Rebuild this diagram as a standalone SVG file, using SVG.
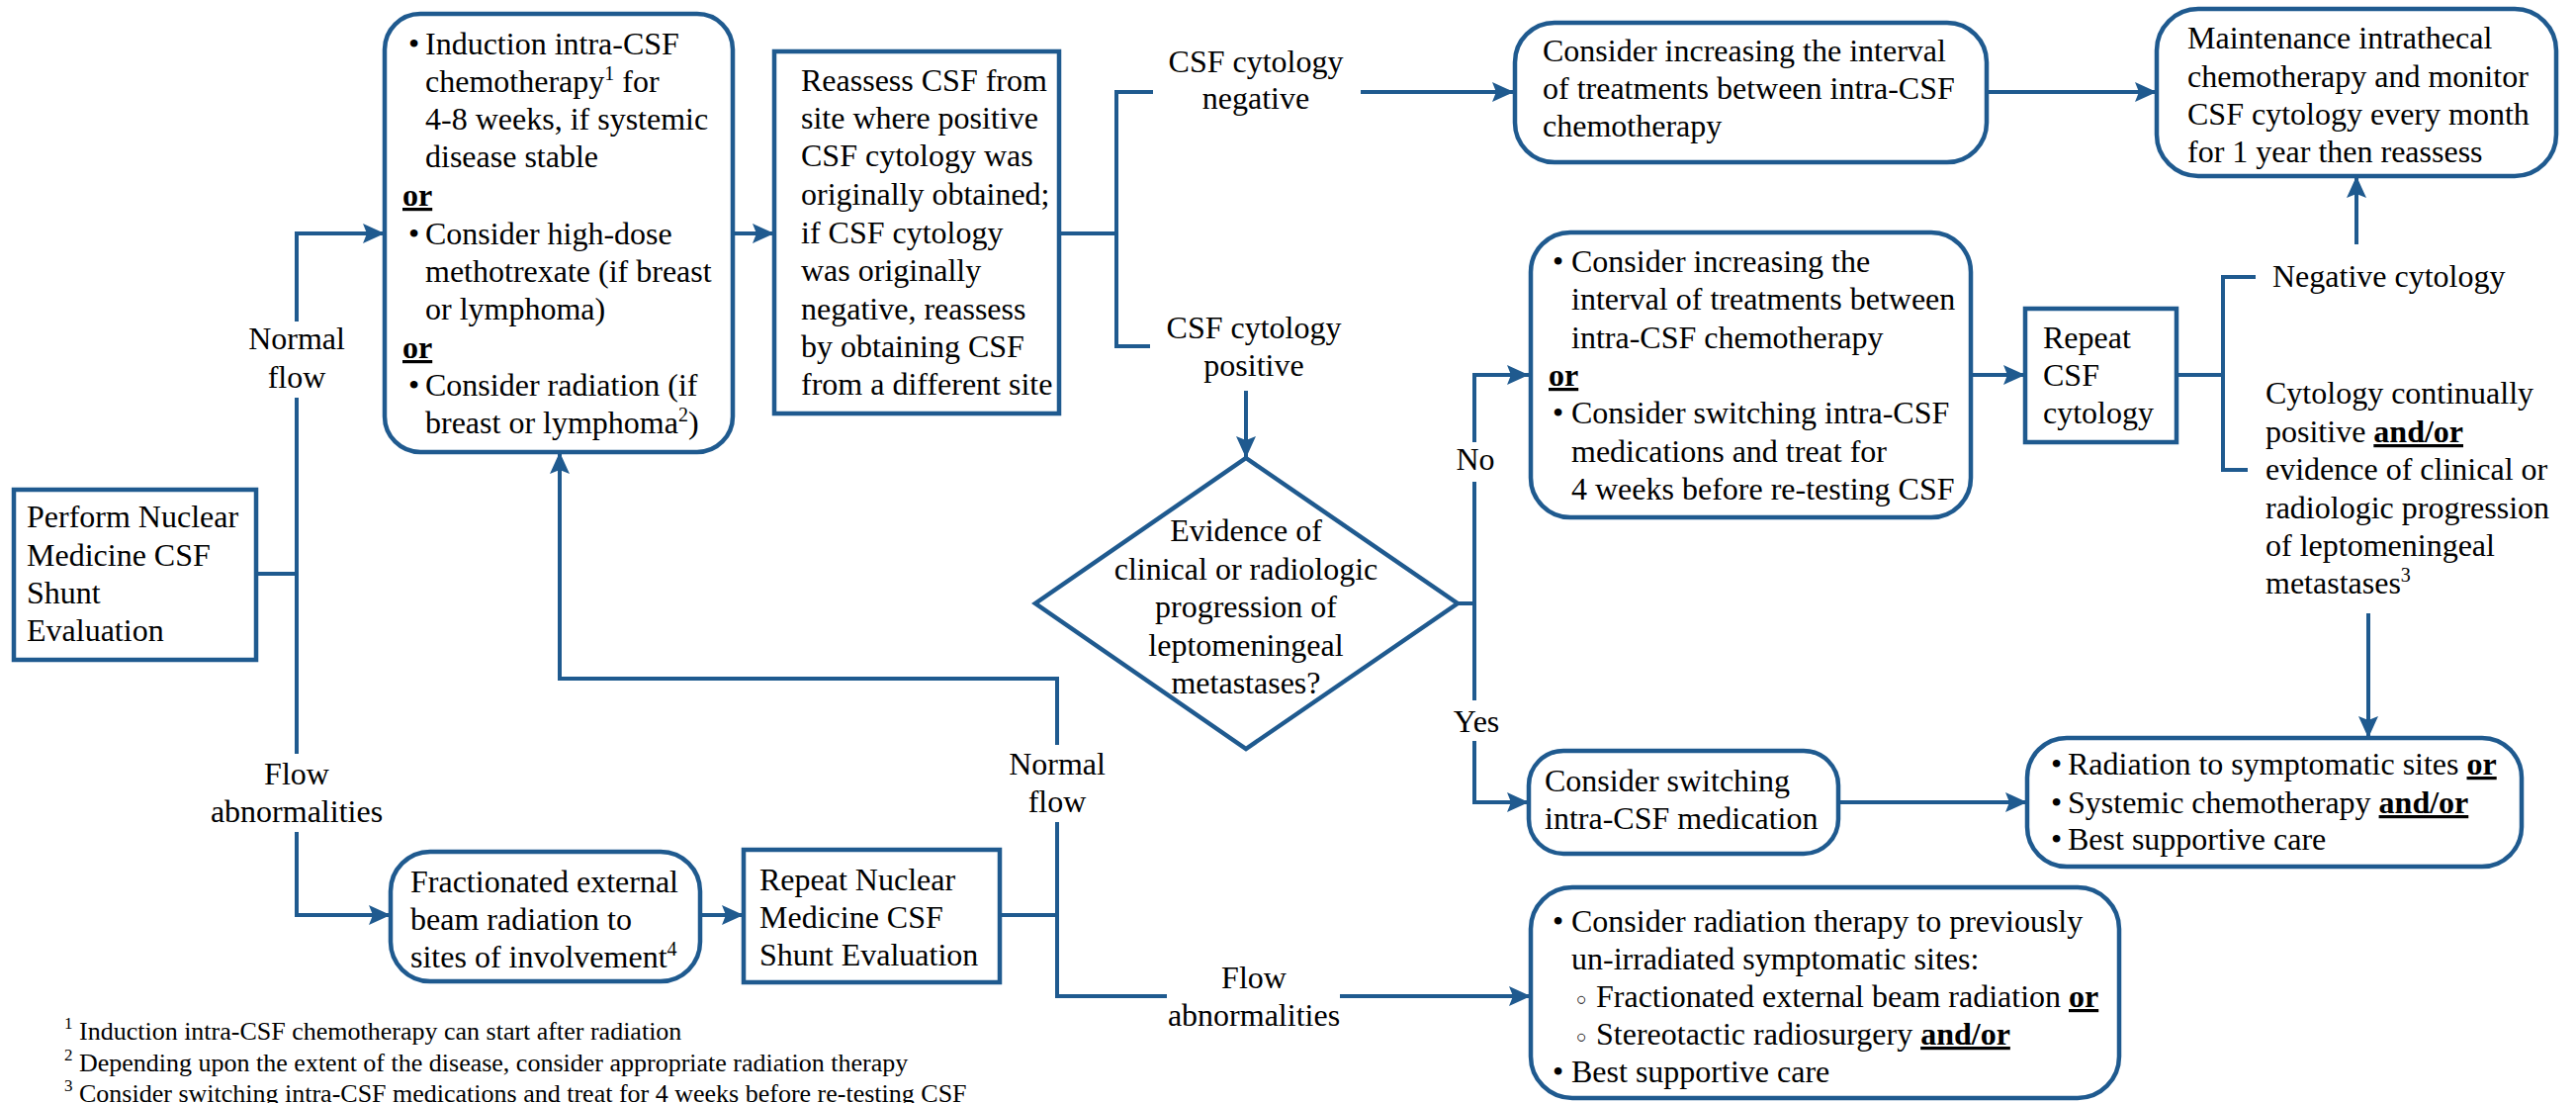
<svg xmlns="http://www.w3.org/2000/svg" width="2605" height="1115" viewBox="0 0 2605 1115">
<style>
text{font-family:"Liberation Serif","Times New Roman",serif;font-size:32px;fill:#000}
.m{text-anchor:middle}
.fn{font-size:26px}
.sup{font-size:20px}
.fs{font-size:17px}
.b{font-weight:bold;text-decoration:underline}
.n{fill:#fff;stroke:#1F5A8F;stroke-width:4.5}
.c{fill:none;stroke:#1F5A8F;stroke-width:4}
.a{marker-end:url(#ah)}
.ob{font-size:18px}
</style>
<defs>
<marker id="ah" markerUnits="userSpaceOnUse" markerWidth="24" markerHeight="22" refX="22" refY="10" orient="auto">
<path d="M0,0 L22,10 L0,20 L4,10 z" fill="#1F5A8F"/>
</marker>
</defs>
<rect width="2605" height="1115" fill="#fff"/>
<g id="connectors">
<path class="c" d="M259,580 H300"/>
<path class="c a" d="M300,325 V236 H389"/>
<path class="c" d="M300,402 V762"/>
<path class="c a" d="M300,841 V925 H395"/>
<path class="c a" d="M741,236 H783"/>
<path class="c" d="M1071,236 H1129"/>
<path class="c" d="M1166,93 H1129 V350 H1163"/>
<path class="c a" d="M1376,93 H1531"/>
<path class="c a" d="M1260,395 V463"/>
<path class="c" d="M1474,610 H1491"/>
<path class="c a" d="M1491,447 V379 H1546"/>
<path class="c" d="M1491,487 V708"/>
<path class="c a" d="M1491,749 V811 H1546"/>
<path class="c a" d="M2009,93 H2181"/>
<path class="c a" d="M1993,379 H2048"/>
<path class="c" d="M2201,379 H2248"/>
<path class="c" d="M2281,280 H2248 V475 H2273"/>
<path class="c a" d="M2383,247 V178"/>
<path class="c a" d="M2395,620 V746"/>
<path class="c a" d="M1859,811 H2050"/>
<path class="c a" d="M708,925 H752"/>
<path class="c" d="M1011,925 H1069"/>
<path class="c a" d="M1069,753 V686 H566 V457"/>
<path class="c" d="M1069,831 V1007 H1180"/>
<path class="c a" d="M1355,1007 H1548"/>
<text class="m" x="300" y="353">Normal</text>
<text class="m" x="300" y="392">flow</text>
<text class="m" x="300" y="793">Flow</text>
<text class="m" x="300" y="831">abnormalities</text>
<text class="m" x="1270" y="73">CSF cytology</text>
<text class="m" x="1270" y="110">negative</text>
<text class="m" x="1268" y="342">CSF cytology</text>
<text class="m" x="1268" y="380">positive</text>
<text class="m" x="1492" y="475">No</text>
<text class="m" x="1493" y="740">Yes</text>
<text class="m" x="1069" y="783">Normal</text>
<text class="m" x="1069" y="821">flow</text>
<text class="m" x="1268" y="999">Flow</text>
<text class="m" x="1268" y="1037">abnormalities</text>
<text x="2298" y="290">Negative cytology</text>
<text x="2291" y="408">Cytology continually</text>
<text x="2291" y="447">positive <tspan class="b">and/or</tspan></text>
<text x="2291" y="485">evidence of clinical or</text>
<text x="2291" y="524">radiologic progression</text>
<text x="2291" y="562">of leptomeningeal</text>
<text x="2291" y="600">metastases<tspan class="sup" dy="-12">3</tspan></text>
</g>
<g id="perform">
<rect class="n" x="14" y="495" width="245" height="172"/>
<text x="27" y="533">Perform Nuclear</text>
<text x="27" y="572">Medicine CSF</text>
<text x="27" y="610">Shunt</text>
<text x="27" y="648">Evaluation</text>
</g>
<g id="induction">
<rect class="n" x="389" y="14" width="352" height="443" rx="36"/>
<text x="413" y="55">•</text><text x="430" y="55">Induction intra-CSF</text>
<text x="430" y="93">chemotherapy<tspan class="sup" dy="-12">1</tspan><tspan dy="12"> for</tspan></text>
<text x="430" y="131">4-8 weeks, if systemic</text>
<text x="430" y="169">disease stable</text>
<text class="b" x="407" y="208">or</text>
<text x="413" y="247">•</text><text x="430" y="247">Consider high-dose</text>
<text x="430" y="285">methotrexate (if breast</text>
<text x="430" y="323">or lymphoma)</text>
<text class="b" x="407" y="362">or</text>
<text x="413" y="400">•</text><text x="430" y="400">Consider radiation (if</text>
<text x="430" y="438">breast or lymphoma<tspan class="sup" dy="-12">2</tspan><tspan dy="12">)</tspan></text>
</g>
<g id="reassess">
<rect class="n" x="783" y="52" width="288" height="366"/>
<text x="810" y="92">Reassess CSF from</text>
<text x="810" y="130">site where positive</text>
<text x="810" y="168">CSF cytology was</text>
<text x="810" y="207">originally obtained;</text>
<text x="810" y="246">if CSF cytology</text>
<text x="810" y="284">was originally</text>
<text x="810" y="323">negative, reassess</text>
<text x="810" y="361">by obtaining CSF</text>
<text x="810" y="399">from a different site</text>
</g>
<g id="decision">
<polygon class="n" points="1260,463 1474,610 1260,757 1047,610"/>
<text class="m" x="1260" y="547">Evidence of</text>
<text class="m" x="1260" y="586">clinical or radiologic</text>
<text class="m" x="1260" y="624">progression of</text>
<text class="m" x="1260" y="663">leptomeningeal</text>
<text class="m" x="1260" y="701">metastases?</text>
</g>
<g id="increase-interval">
<rect class="n" x="1532" y="23" width="477" height="141" rx="40"/>
<text x="1560" y="62">Consider increasing the interval</text>
<text x="1560" y="100">of treatments between intra-CSF</text>
<text x="1560" y="138">chemotherapy</text>
</g>
<g id="maintenance">
<rect class="n" x="2181" y="9" width="404" height="169" rx="42"/>
<text x="2212" y="49">Maintenance intrathecal</text>
<text x="2212" y="88">chemotherapy and monitor</text>
<text x="2212" y="126">CSF cytology every month</text>
<text x="2212" y="164">for 1 year then reassess</text>
</g>
<g id="no-branch">
<rect class="n" x="1548" y="235" width="445" height="288" rx="40"/>
<text x="1570" y="275">•</text><text x="1589" y="275">Consider increasing the</text>
<text x="1589" y="313">interval of treatments between</text>
<text x="1589" y="352">intra-CSF chemotherapy</text>
<text class="b" x="1566" y="390">or</text>
<text x="1570" y="428">•</text><text x="1589" y="428">Consider switching intra-CSF</text>
<text x="1589" y="467">medications and treat for</text>
<text x="1589" y="505">4 weeks before re-testing CSF</text>
</g>
<g id="repeat-cytology">
<rect class="n" x="2048" y="312" width="153" height="135"/>
<text x="2066" y="352">Repeat</text>
<text x="2066" y="390">CSF</text>
<text x="2066" y="428">cytology</text>
</g>
<g id="switch-medication">
<rect class="n" x="1546" y="759" width="313" height="104" rx="35"/>
<text x="1562" y="800">Consider switching</text>
<text x="1562" y="838">intra-CSF medication</text>
</g>
<g id="radiation-systemic">
<rect class="n" x="2050" y="746" width="500" height="130" rx="40"/>
<text x="2074" y="783">•</text><text x="2091" y="783">Radiation to symptomatic sites <tspan class="b">or</tspan></text>
<text x="2074" y="822">•</text><text x="2091" y="822">Systemic chemotherapy <tspan class="b">and/or</tspan></text>
<text x="2074" y="859">•</text><text x="2091" y="859">Best supportive care</text>
</g>
<g id="fractionated">
<rect class="n" x="395" y="861" width="313" height="131" rx="40"/>
<text x="415" y="902">Fractionated external</text>
<text x="415" y="940">beam radiation to</text>
<text x="415" y="978">sites of involvement<tspan class="sup" dy="-12">4</tspan></text>
</g>
<g id="repeat-nuclear">
<rect class="n" x="752" y="859" width="259" height="134"/>
<text x="768" y="900">Repeat Nuclear</text>
<text x="768" y="938">Medicine CSF</text>
<text x="768" y="976">Shunt Evaluation</text>
</g>
<g id="radiation-therapy">
<rect class="n" x="1548" y="897" width="595" height="213" rx="42"/>
<text x="1570" y="942">•</text><text x="1589" y="942">Consider radiation therapy to previously</text>
<text x="1589" y="980">un-irradiated symptomatic sites:</text>
<text class="ob" x="1594" y="1016">○</text><text x="1614" y="1018">Fractionated external beam radiation <tspan class="b">or</tspan></text>
<text class="ob" x="1594" y="1054">○</text><text x="1614" y="1056">Stereotactic radiosurgery <tspan class="b">and/or</tspan></text>
<text x="1570" y="1094">•</text><text x="1589" y="1094">Best supportive care</text>
</g>
<g id="footnotes">
<text class="fs" x="65" y="1040">1</text><text class="fn" x="80" y="1051">Induction intra-CSF chemotherapy can start after radiation</text>
<text class="fs" x="65" y="1072">2</text><text class="fn" x="80" y="1083">Depending upon the extent of the disease, consider appropriate radiation therapy</text>
<text class="fs" x="65" y="1103">3</text><text class="fn" x="80" y="1114">Consider switching intra-CSF medications and treat for 4 weeks before re-testing CSF</text>
</g>
</svg>
